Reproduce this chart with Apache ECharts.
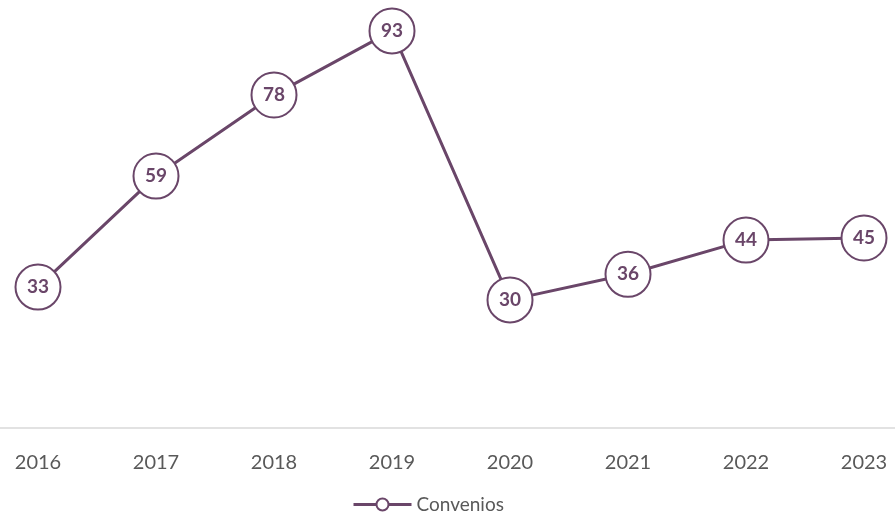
<!DOCTYPE html>
<html lang="es">
<head>
<meta charset="UTF-8">
<title>Convenios</title>
<script src="https://cdn.jsdelivr.net/npm/echarts@6/dist/echarts.min.js"></script>
<style>
  html, body { margin: 0; padding: 0; background: #fff; }
  #chart { width: 895px; height: 517px; }
</style>
</head>
<body>
<div id="chart"></div>
<script>
  // datos (el punto de 2023 se dibuja casi a la altura de 2022, como en el original)
  const years = ['2016', '2017', '2018', '2019', '2020', '2021', '2022', '2023'];
  const convenios = [33, 59, 78, 93, 30, 36, 44, 44.5];

  const purple = '#6a4669';
  const chart = echarts.init(document.getElementById('chart'));

  chart.setOption({
    animation: false,
    grid: {
      left: -21, right: -28, top: 1, bottom: 89,
      containLabel: false,
      outerBoundsMode: 'none'
    },
    legend: {
      top: 490,
      left: 347,
      itemWidth: 58,
      itemHeight: 15,
      itemGap: 4,
      lineStyle: { width: 3 },
      itemStyle: { borderWidth: 2 },
      textStyle: { fontFamily: 'Lato', fontSize: 19, color: '#595959' },
      data: ['Convenios']
    },
    xAxis: {
      type: 'category',
      data: years,
      boundaryGap: true,
      axisLine: { lineStyle: { color: '#d9d9d9', width: 1.5 } },
      axisTick: { show: false },
      axisLabel: { margin: 25, fontFamily: 'Lato', fontSize: 20, color: '#595959' }
    },
    yAxis: {
      type: 'value',
      min: 0,
      max: 100,
      show: false,
      splitLine: { show: false }
    },
    series: [{
      name: 'Convenios',
      type: 'line',
      data: convenios,
      symbol: 'circle',
      symbolSize: 45,
      lineStyle: { color: purple, width: 3 },
      itemStyle: { color: '#fff', borderColor: purple, borderWidth: 2 },
      label: {
        show: true,
        position: 'inside',
        fontFamily: 'Lato',
        fontWeight: 'bold',
        fontSize: 19,
        color: purple,
        formatter: p => Math.round(p.value)
      }
    }]
  });
</script>
</body>
</html>
